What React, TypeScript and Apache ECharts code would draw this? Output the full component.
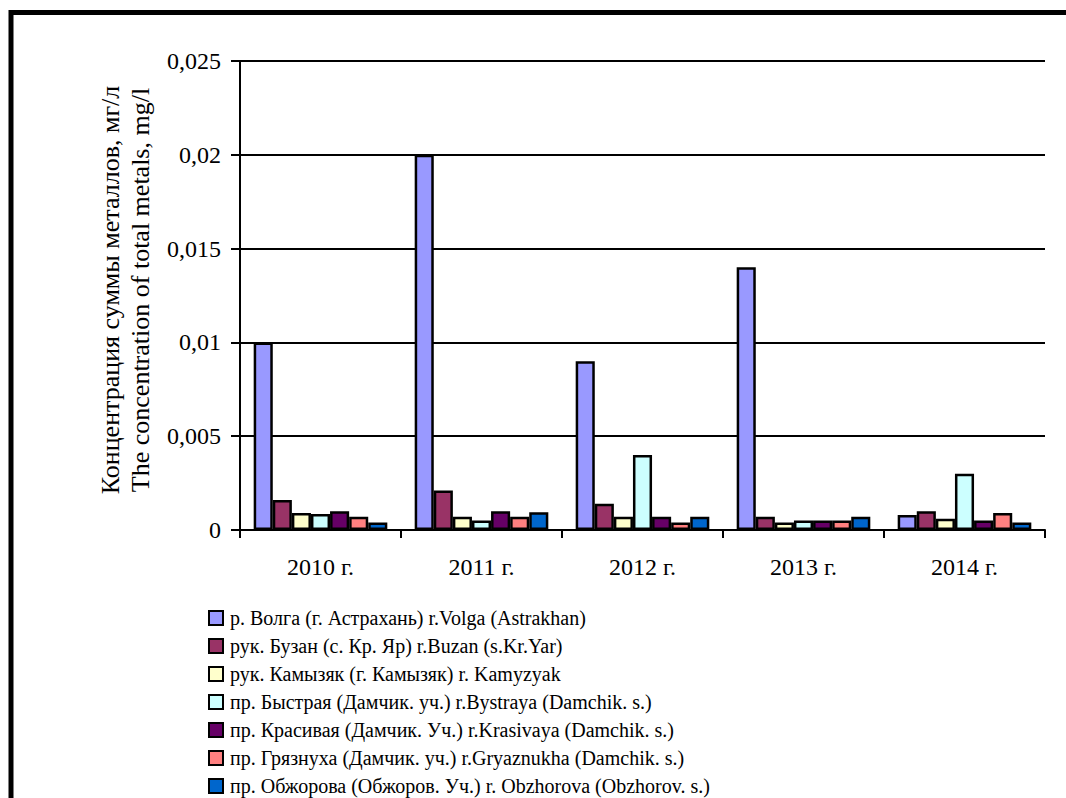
import React, { useEffect, useRef } from "react";
import * as echarts from "echarts";

const categories = ["2010 г.", "2011 г.", "2012 г.", "2013 г.", "2014 г."];
const seriesNames = [
  "р. Волга (г. Астрахань) r.Volga (Astrakhan)",
  "рук. Бузан (с. Кр. Яр) r.Buzan (s.Kr.Yar)",
  "рук. Камызяк (г. Камызяк) r. Kamyzyak",
  "пр. Быстрая (Дамчик. уч.) r.Bystraya (Damchik. s.)",
  "пр. Красивая (Дамчик. Уч.) r.Krasivaya (Damchik. s.)",
  "пр. Грязнуха (Дамчик. уч.) r.Gryaznukha (Damchik. s.)",
  "пр. Обжорова (Обжоров. Уч.) r. Obzhorova (Obzhorov. s.)",
];
const volga = [0.01, 0.02, 0.009, 0.014, 0.0008];
const buzan = [0.0016, 0.0021, 0.0014, 0.0007, 0.001];
const kamyzyak = [0.0009, 0.0007, 0.0007, 0.0004, 0.0006];
const bystraya = [0.00085, 0.0005, 0.004, 0.0005, 0.003];
const krasivaya = [0.001, 0.001, 0.0007, 0.0005, 0.0005];
const gryaznukha = [0.0007, 0.0007, 0.0004, 0.0005, 0.0009];
const obzhorova = [0.0004, 0.00095, 0.0007, 0.0007, 0.0004];
const yTicks = ["0", "0,005", "0,01", "0,015", "0,02", "0,025"];
const yNameLines = ["Концентрация суммы металлов, мг/л", "The concentration of total metals, mg/l"];
const colors = ["#9999FF", "#993366", "#FFFFCC", "#CCFFFF", "#660066", "#FF8080", "#0066CC"];

const FONT = "Liberation Serif, DejaVu Serif, serif";

export default function App() {
  const ref = useRef<HTMLDivElement>(null);
  useEffect(() => {
    if (!ref.current) return;
    const chart = echarts.init(ref.current, null, { renderer: "svg" });
    const allData = [volga, buzan, kamyzyak, bystraya, krasivaya, gryaznukha, obzhorova];
    chart.setOption({
      animation: false,
      backgroundColor: "#ffffff",
      grid: { left: 240, right: 21, top: 61, bottom: 268, containLabel: false },
      xAxis: {
        type: "category",
        data: categories,
        boundaryGap: true,
        axisLine: { lineStyle: { color: "#000", width: 2 } },
        axisTick: { show: true, length: 8, inside: false, lineStyle: { color: "#000", width: 2 } },
        axisLabel: { color: "#000", fontFamily: FONT, fontSize: 24, margin: 25 },
      },
      yAxis: {
        type: "value",
        min: 0,
        max: 0.025,
        interval: 0.005,
        axisLine: { show: true, lineStyle: { color: "#000", width: 2 } },
        axisTick: { show: true, length: 9, lineStyle: { color: "#000", width: 2 } },
        splitLine: { show: true, lineStyle: { color: "#000", width: 2 } },
        axisLabel: {
          color: "#000",
          fontFamily: FONT,
          fontSize: 24,
          margin: 19,
          formatter: (v: number) => yTicks[Math.round(v / 0.005)] ?? "",
        },
      },
      legend: {
        orient: "vertical",
        left: 203,
        top: 603,
        height: 210,
        itemWidth: 14,
        itemHeight: 14,
        itemGap: 8,
        icon: "rect",
        itemStyle: { borderColor: "#000", borderWidth: 2 },
        textStyle: { color: "#000", fontFamily: FONT, fontSize: 20, padding: [0, 0, 0, 2] },
        data: seriesNames,
      },
      graphic: [
        {
          type: "rect",
          shape: { x: 11, y: 12.5, width: 1200, height: 1000 },
          style: { fill: "none", stroke: "#000", lineWidth: 5 },
          silent: true,
        },
        ...yNameLines.map((t, i) => ({
          type: "text",
          x: 110 + i * 30,
          y: 290,
          rotation: Math.PI / 2,
          style: {
            text: t,
            fontSize: 26,
            fontFamily: FONT,
            fill: "#000",
            align: "center",
            verticalAlign: "middle",
          },
        })),
      ],
      series: seriesNames.map((name, i) => ({
        name,
        type: "bar",
        data: allData[i],
        barGap: "0%",
        barCategoryGap: "17%",
        itemStyle: { color: colors[i], borderColor: "#000", borderWidth: 2.5 },
      })),
    });
    return () => chart.dispose();
  }, []);
  return (
    <div
      ref={ref}
      style={{ position: "absolute", left: 0, top: 0, width: 1066, height: 798 }}
    />
  );
}
